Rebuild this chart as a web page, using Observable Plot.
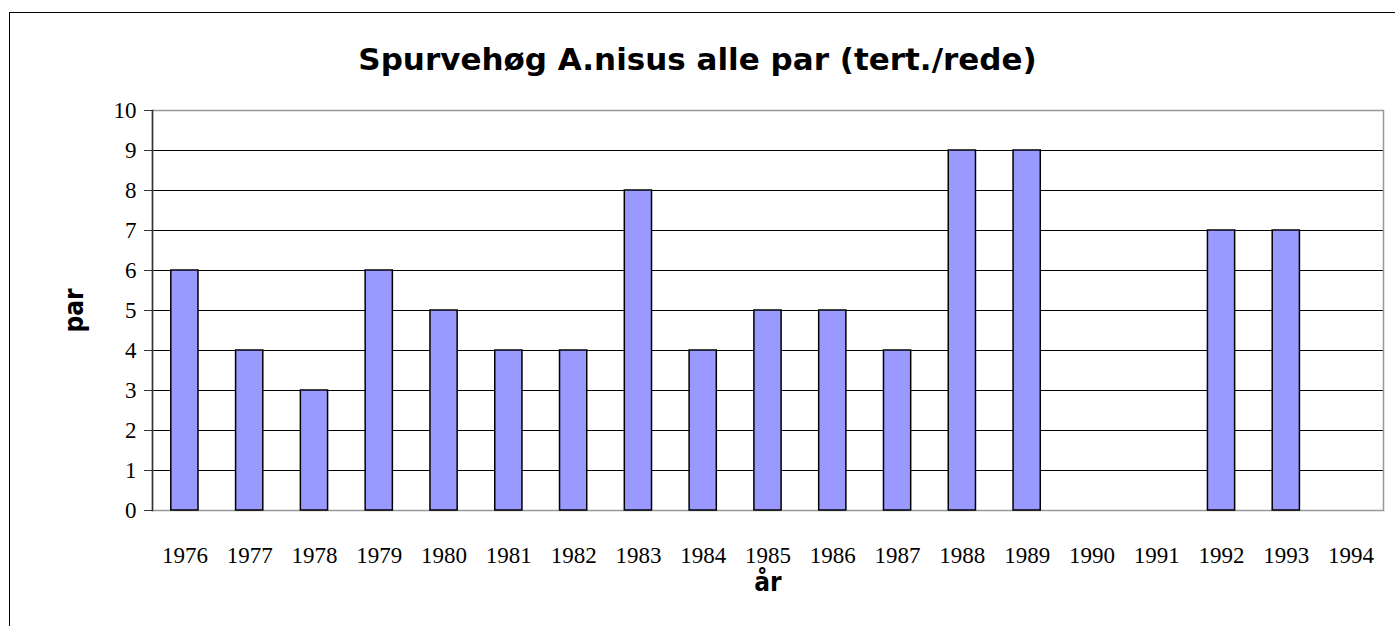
<!DOCTYPE html>
<html>
<head>
<meta charset="utf-8">
<script src="https://cdn.jsdelivr.net/npm/d3@7"></script>
<script src="https://cdn.jsdelivr.net/npm/@observablehq/plot@0.6"></script>
<style>
  html, body { margin: 0; padding: 0; background: #fff; }
  #wrap { position: relative; width: 1395px; height: 626px; overflow: hidden; }
  #border { position: absolute; left: 9px; top: 12px; width: 1400px; height: 640px; border: 1.5px solid #000; box-sizing: border-box; }
  #title { position: absolute; left: 0; width: 1395px; top: 41px; line-height: 36px; text-align: center;
           font-family: "DejaVu Sans", sans-serif; font-weight: bold; font-size: 31px; color: #000; }
  #chart { position: absolute; left: 0; top: 0; }
</style>
</head>
<body>
<div id="wrap">
  <div id="border"></div>
  <div id="title">Spurvehøg A.nisus alle par (tert./rede)</div>
  <div id="chart"></div>
</div>
<script>
const years = ["1976","1977","1978","1979","1980","1981","1982","1983","1984","1985","1986","1987","1988","1989","1990","1991","1992","1993","1994"];
const pairs = [6, 4, 3, 6, 5, 4, 4, 8, 4, 5, 5, 4, 9, 9, null, null, 7, 7, null];
const yTicks = [0,1,2,3,4,5,6,7,8,9,10];

const data = years.map((y, i) => ({year: y, value: pairs[i]}));

const chart = Plot.plot({
  width: 1395,
  height: 626,
  marginTop: 110,
  marginBottom: 116,
  marginLeft: 152,
  marginRight: 12,
  style: {background: "transparent", fontFamily: "'Liberation Serif', serif", fontSize: "23px", color: "#000"},
  x: {domain: years, paddingInner: 0.58, paddingOuter: 0.29, round: false, label: null},
  y: {domain: [0, 10], label: null},
  marks: [
    Plot.gridY(yTicks.filter(d => d > 0 && d < 10), {stroke: "#000", strokeOpacity: 1, strokeWidth: 1}),
    Plot.frame({stroke: "#999", strokeWidth: 1.5}),
    Plot.barY(data.filter(d => d.value != null), {x: "year", y: "value", fill: "#9999ff", stroke: "#000", strokeWidth: 1.5}),
    Plot.frame({anchor: "left", stroke: "#333", strokeWidth: 1.5}),
    Plot.axisY({ticks: yTicks, tickSize: 8, tickPadding: 8, stroke: "#333", fontSize: 23,
      label: "par", labelAnchor: "center", labelArrow: "none", labelOffset: 88}),
    Plot.axisX({tickSize: 0, tickPadding: 36, fontSize: 23,
      label: "år", labelAnchor: "center", labelArrow: "none", labelOffset: 80}),
  ]
});

chart.querySelectorAll("[aria-label='y-axis label'], [aria-label='x-axis label']").forEach(g => {
  g.setAttribute("font-family", "'DejaVu Sans Condensed', 'DejaVu Sans', sans-serif");
  g.setAttribute("font-weight", "bold");
  g.setAttribute("font-size", "26");
  g.querySelectorAll("text").forEach(t => {
    t.setAttribute("font-family", "'DejaVu Sans Condensed', 'DejaVu Sans', sans-serif");
    t.setAttribute("font-weight", "bold");
    t.setAttribute("font-size", "26");
  });
});
document.getElementById("chart").appendChild(chart);
</script>
</body>
</html>
